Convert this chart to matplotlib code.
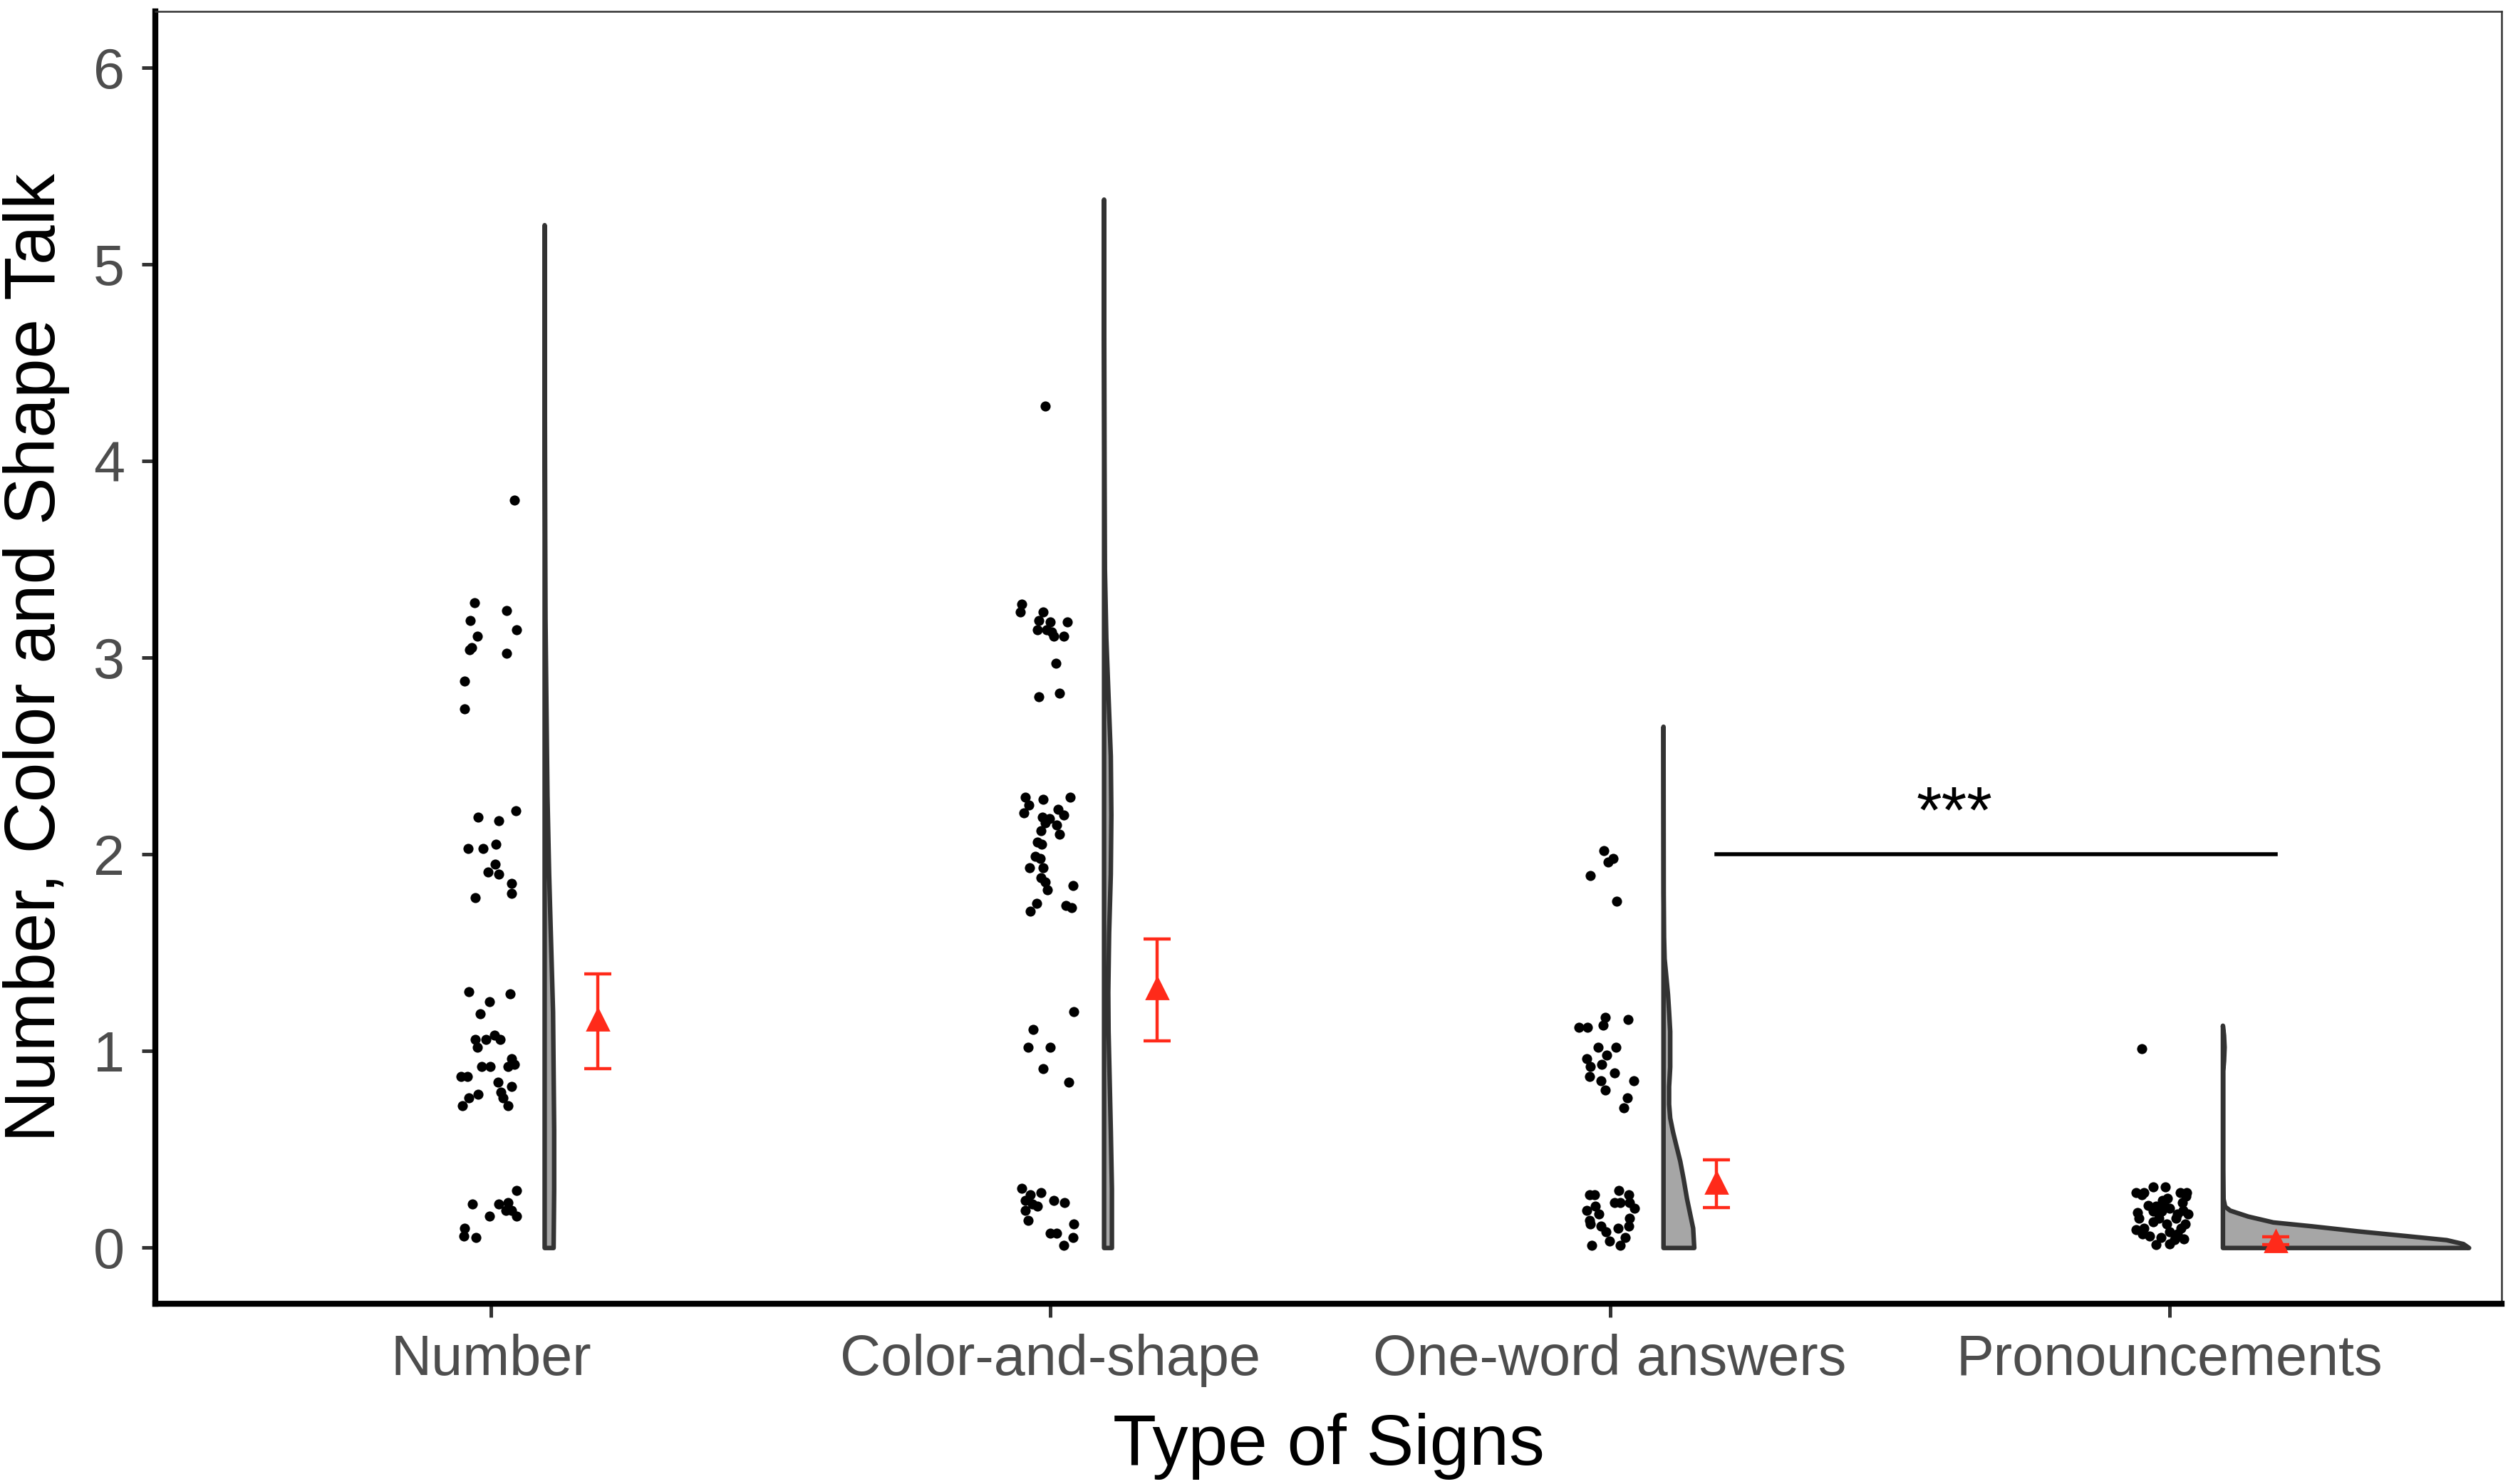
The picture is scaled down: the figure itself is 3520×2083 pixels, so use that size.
import numpy as np
import matplotlib
matplotlib.use('Agg')
import matplotlib.pyplot as plt

plt.rcParams['font.family'] = ['Liberation Sans', 'DejaVu Sans']

categories = ['Number', 'Color-and-shape', 'One-word answers', 'Pronouncements']

# jittered raw values and their horizontal jitter
num_vals = [3.80,
            3.28, 3.24, 3.19, 3.14, 3.11, 3.05, 3.04, 3.02, 2.88, 2.74,
            2.22, 2.19, 2.17, 2.03, 2.03, 2.05, 1.91, 1.95, 1.90, 1.85, 1.80, 1.78,
            1.30, 1.29, 1.25, 1.19, 1.06, 1.02, 1.06, 1.08, 1.06, 0.96, 0.92, 0.92,
            0.92, 0.93, 0.87, 0.87, 0.84, 0.82, 0.79, 0.76, 0.78, 0.72, 0.76, 0.72,
            0.29, 0.22, 0.22, 0.23, 0.16, 0.19, 0.19, 0.16, 0.10, 0.06, 0.05]
num_jit = [0.042,
           -0.030, 0.028, -0.037, 0.046, -0.024, -0.035, -0.039, 0.028, -0.047, -0.047,
           0.044, -0.023, 0.013, -0.041, -0.015, 0.008, -0.005, 0.007, 0.013, 0.036, 0.037, -0.028,
           -0.040, 0.034, -0.003, -0.020, -0.029, -0.025, -0.009, 0.006, 0.016, 0.036, -0.017, -0.002,
           0.030, 0.042, -0.054, -0.042, 0.012, 0.037, 0.017, -0.040, -0.023, -0.051, 0.021, 0.030,
           0.046, -0.034, 0.013, 0.030, -0.003, 0.026, 0.036, 0.046, -0.047, -0.049, -0.027]

col_vals = [4.28,
            3.27, 3.23, 3.23, 3.19, 3.18, 3.18, 3.14, 3.14, 3.13, 3.11, 3.11, 2.97, 2.80, 2.82,
            2.29, 2.29, 2.28, 2.25, 2.21, 2.23, 2.20, 2.19, 2.18, 2.16, 2.15, 2.12, 2.10, 2.06,
            2.05, 1.99, 1.98, 1.93, 1.93, 1.88, 1.86, 1.84, 1.82, 1.75, 1.71, 1.74, 1.73,
            1.20, 1.11, 1.02, 1.02, 0.91, 0.84,
            0.30, 0.27, 0.28, 0.24, 0.22, 0.24, 0.23, 0.21, 0.19, 0.14, 0.12, 0.075, 0.075, 0.05, 0.01]
col_jit = [-0.009,
           -0.051, -0.054, -0.014, -0.021, 0.000, 0.030, -0.023, -0.007, 0.002, 0.006, 0.024, 0.010, -0.021, 0.016,
           -0.045, 0.035, -0.014, -0.039, -0.048, 0.014, 0.023, -0.015, -0.002, -0.009, 0.011, -0.017, 0.016, -0.023,
           -0.016, -0.028, -0.019, -0.038, -0.013, -0.017, -0.010, 0.040, -0.006, -0.025, -0.036, 0.028, 0.038,
           0.041, -0.031, -0.040, -0.001, -0.014, 0.033,
           -0.051, -0.036, -0.017, -0.045, -0.032, 0.006, 0.025, -0.023, -0.045, -0.040, 0.042, 0.000, 0.011, 0.040, 0.023]

ow_vals = [2.02, 1.98, 1.96, 1.89, 1.76,
           1.17, 1.16, 1.12, 1.12, 1.13, 1.02, 1.02, 0.98, 0.96, 0.92, 0.93, 0.89, 0.87, 0.85,
           0.85, 0.80, 0.76, 0.71,
           0.27, 0.27, 0.29, 0.27, 0.23, 0.23, 0.21, 0.19, 0.23, 0.20, 0.17, 0.12, 0.15, 0.11,
           0.10, 0.08, 0.11, 0.05, 0.035, 0.01, 0.01, 0.14]
ow_jit = [-0.011, 0.006, -0.003, -0.035, 0.012,
          -0.008, 0.032, -0.056, -0.040, -0.012, -0.021, 0.011, -0.006, -0.042, -0.035, -0.015, 0.008, -0.037, 0.042,
          -0.016, -0.009, 0.031, 0.025,
          -0.037, -0.028, 0.016, 0.033, 0.008, 0.018, -0.026, -0.041, 0.035, 0.044, -0.020, -0.035, 0.035, -0.016,
          0.014, -0.007, 0.033, 0.027, -0.001, -0.033, 0.018, -0.037]

pr_vals = [1.01,
           0.28, 0.28, 0.31, 0.31, 0.28, 0.28, 0.25, 0.24, 0.215, 0.21, 0.23, 0.18, 0.185, 0.185,
           0.20, 0.17, 0.17, 0.15, 0.15, 0.15, 0.13, 0.09, 0.10, 0.12, 0.07, 0.06, 0.08, 0.07,
           0.045, 0.015, 0.02, 0.04, 0.23, 0.17, 0.26, 0.12, 0.05, 0.19, 0.10, 0.27]
pr_jit = [-0.049,
          -0.059, -0.045, -0.029, -0.007, 0.019, 0.031, -0.003, -0.012, -0.038, -0.024, 0.023, -0.057, -0.029, -0.014,
          0.000, 0.014, 0.033, -0.055, -0.019, 0.012, -0.029, -0.059, -0.045, 0.028, -0.048, -0.036, 0.000, 0.014,
          0.026, -0.024, 0.000, 0.009, -0.010, -0.019, 0.030, -0.005, -0.015, 0.025, 0.020, -0.050]

# half-violin outlines (value level, half width)
num_vio_y = [0, 0.3, 0.6, 0.9, 1.2, 1.5, 1.9, 2.3, 2.8, 3.2, 3.6, 4.2, 4.8, 5.2]
num_vio_w = [0.016, 0.017, 0.017, 0.016, 0.015, 0.012, 0.008, 0.005, 0.003, 0.0015, 0.001, 0.0005, 0.0002, 0]
col_vio_y = [0, 0.3, 0.6, 0.85, 1.1, 1.3, 1.6, 1.9, 2.2, 2.5, 2.8, 3.1, 3.45, 4.0, 4.6, 5.33]
col_vio_w = [0.014, 0.014, 0.012, 0.010, 0.008, 0.0075, 0.009, 0.012, 0.013, 0.012, 0.008, 0.004, 0.0015, 0.0008, 0.0003, 0]
ow_vio_y = [0, 0.1, 0.25, 0.35, 0.44, 0.52, 0.59, 0.66, 0.73, 0.82, 0.92, 1.0, 1.1, 1.2, 1.29, 1.38, 1.47, 1.58, 1.8, 2.2, 2.65]
ow_vio_w = [0.055, 0.053, 0.042, 0.036, 0.030, 0.023, 0.017, 0.012, 0.010, 0.010, 0.012, 0.012, 0.012, 0.010, 0.008, 0.005, 0.002, 0.001, 0.0004, 0.0002, 0]
pr_vio_y = [0.0, 0.02, 0.04, 0.06, 0.085, 0.11, 0.13, 0.16, 0.19, 0.21, 0.25, 0.4, 0.9, 0.95, 1.02, 1.08, 1.13]
pr_vio_w = [0.44, 0.43, 0.40, 0.33, 0.24, 0.16, 0.09, 0.045, 0.013, 0.004, 0.001, 0.0005, 0.0005, 0.002, 0.003, 0.002, 0]

# means with error bar limits
means = [1.16, 1.32, 0.33, 0.035]
err_low = [0.91, 1.05, 0.205, 0.015]
err_high = [1.39, 1.57, 0.447, 0.055]

sig_from, sig_to, sig_y = 3, 4, 2.0

vals = [num_vals, col_vals, ow_vals, pr_vals]
jits = [num_jit, col_jit, ow_jit, pr_jit]
vio_y = [num_vio_y, col_vio_y, ow_vio_y, pr_vio_y]
vio_w = [num_vio_w, col_vio_w, ow_vio_w, pr_vio_w]

fig = plt.figure(figsize=(17.6, 10.415), dpi=200)
ax = fig.add_axes([0.062, 0.1215, 0.9355, 0.8708])

red = '#FF2A1A'
for i in range(4):
    pos = i + 1
    ax.scatter(pos + np.array(jits[i]), vals[i], s=26, color='black', zorder=3, linewidths=0)
    x0 = pos + 0.095
    ax.fill_betweenx(vio_y[i], x0, x0 + np.array(vio_w[i]), facecolor='#A6A6A6',
                     edgecolor='#333333', linewidth=2.3, zorder=2)
    ax.errorbar(pos + 0.19, means[i],
                yerr=[[means[i] - err_low[i]], [err_high[i] - means[i]]],
                fmt='^', color=red, ms=11, elinewidth=1.6, capsize=7, capthick=1.6, zorder=4)

# significance bracket
ax.plot([sig_from + 0.19, sig_to + 0.19], [sig_y, sig_y], color='black', lw=2.0)
ax.text(3.615, sig_y + 0.11, '***', ha='center', va='baseline', fontsize=33, color='black')

ax.set_xlim(0.4, 4.594)
ax.set_ylim(-0.285, 6.285)
ax.set_xticks(range(1, 5))
ax.set_xticklabels(categories)
ax.set_yticks(range(0, 7))
ax.tick_params(axis='both', colors='#333333', length=7, width=1.8, labelsize=28.5,
               labelcolor='#4D4D4D')
ax.tick_params(axis='x', pad=8)
ax.tick_params(axis='y', pad=8.5)

for s in ['left', 'bottom']:
    ax.spines[s].set_linewidth(3.0)
    ax.spines[s].set_color('black')
for s in ['top', 'right']:
    ax.spines[s].set_linewidth(0.9)
    ax.spines[s].set_color('#333333')

ax.set_xlabel('Type of Signs', fontsize=36, color='black', labelpad=13)
ax.set_ylabel('Number, Color and Shape Talk', fontsize=36, color='black', labelpad=12)

fig.savefig('out.png', dpi=200, facecolor='white')
